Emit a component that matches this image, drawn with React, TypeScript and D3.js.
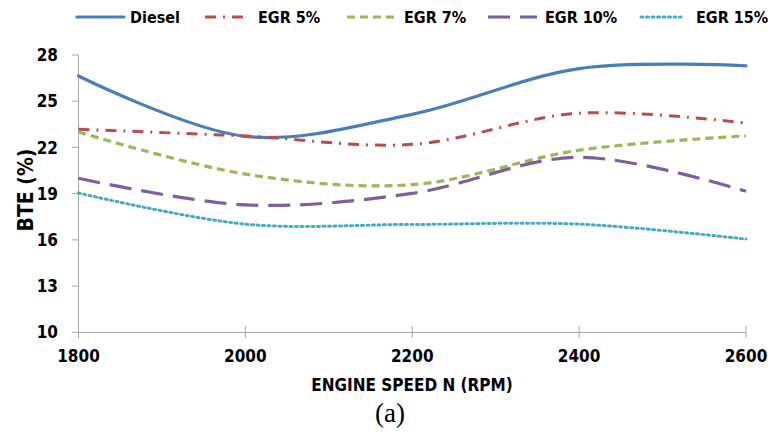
import React from "react";
import * as d3 from "d3";

const speeds = [1800, 2000, 2200, 2400, 2600];
const diesel = [26.64, 22.72, 24.15, 27.12, 27.3];
const egr5 = [23.18, 22.74, 22.2, 24.22, 23.58];
const egr7 = [23.0, 20.27, 19.58, 21.82, 22.75];
const egr10 = [20.0, 18.27, 19.02, 21.36, 19.15];
const egr15 = [19.04, 17.02, 17.0, 17.02, 16.05];
const yTicks = [10, 13, 16, 19, 22, 25, 28];

const seriesNames = ["Diesel", "EGR 5%", "EGR 7%", "EGR 10%", "EGR 15%"];
const seriesData = [diesel, egr5, egr7, egr10, egr15];
const colors = ["#4A7EBB", "#BE4B48", "#98B954", "#7D5FA0", "#46AAC5"];
const dashes = ["", "11,7,2,7", "8,5", "22,10", "2,3.5"];
const widths = [3.2, 3, 3.2, 3.2, 3];
const caps = ["round", "butt", "butt", "butt", "round"];

const FONT = "'Liberation Sans Narrow', 'DejaVu Sans Condensed', 'Open Sans', Arial, sans-serif";

export default function App() {
  const x = d3.scaleLinear().domain([1800, 2600]).range([78.5, 746]);
  const y = d3.scaleLinear().domain([10, 28]).range([332.3, 55]);
  const line = d3
    .line<number>()
    .x((_, i) => x(speeds[i]))
    .y((d) => y(d))
    .curve(d3.curveCatmullRom.alpha(0.5));

  const legendLines = [
    [77, 124, 130],
    [205, 250, 258],
    [347, 395, 404],
    [488, 537, 545],
    [641, 681, 696],
  ];

  return (
    <svg width={768} height={432} style={{ position: "absolute", left: 0, top: 0, background: "#fff" }}>
      {/* axes */}
      <line x1={78.5} x2={78.5} y1={55} y2={332.5} stroke="#A6A6A6" strokeWidth={1} />
      <line x1={78.5} x2={746} y1={332.5} y2={332.5} stroke="#A6A6A6" strokeWidth={1} />
      {yTicks.map((t) => (
        <g key={t}>
          <line x1={72} x2={78.5} y1={y(t)} y2={y(t)} stroke="#A6A6A6" />
          <text x={58} y={y(t)} dy="0.36em" textAnchor="end" fontFamily={FONT} fontWeight="bold" fontSize={17} fill="#000">
            {t}
          </text>
        </g>
      ))}
      {speeds.map((s) => (
        <g key={s}>
          <line x1={x(s)} x2={x(s)} y1={326} y2={338} stroke="#A6A6A6" />
          <text x={x(s)} y={362} textAnchor="middle" fontFamily={FONT} fontWeight="bold" fontSize={17} fill="#000">
            {s}
          </text>
        </g>
      ))}
      {/* series */}
      {seriesData.map((d, i) => (
        <path
          key={i}
          d={line(d) || ""}
          fill="none"
          stroke={colors[i]}
          strokeWidth={widths[i]}
          strokeDasharray={dashes[i] || undefined}
          strokeLinecap={caps[i] as any}
        />
      ))}
      {/* legend */}
      {seriesNames.map((n, i) => (
        <g key={n}>
          <line
            x1={legendLines[i][0]}
            x2={legendLines[i][1]}
            y1={17}
            y2={17}
            stroke={colors[i]}
            strokeWidth={widths[i]}
            strokeDasharray={dashes[i] || undefined}
            strokeLinecap={caps[i] as any}
          />
          <text x={legendLines[i][2]} y={17} dy="0.36em" fontFamily={FONT} fontWeight="bold" fontSize={16} fill="#000">
            {n}
          </text>
        </g>
      ))}
      {/* axis titles */}
      <text
        transform="translate(25,190) rotate(-90)"
        textAnchor="middle"
        dy="0.36em"
        fontFamily={FONT}
        fontWeight="bold"
        fontSize={21}
        fill="#000"
      >
        BTE (%)
      </text>
      <text x={412} y={391} textAnchor="middle" fontFamily={FONT} fontWeight="bold" fontSize={17} fill="#000">
        ENGINE SPEED N (RPM)
      </text>
      <text x={390} y={422} textAnchor="middle" fontFamily="'Liberation Serif', 'Times New Roman', serif" fontSize={27} fill="#000">
        (a)
      </text>
    </svg>
  );
}
